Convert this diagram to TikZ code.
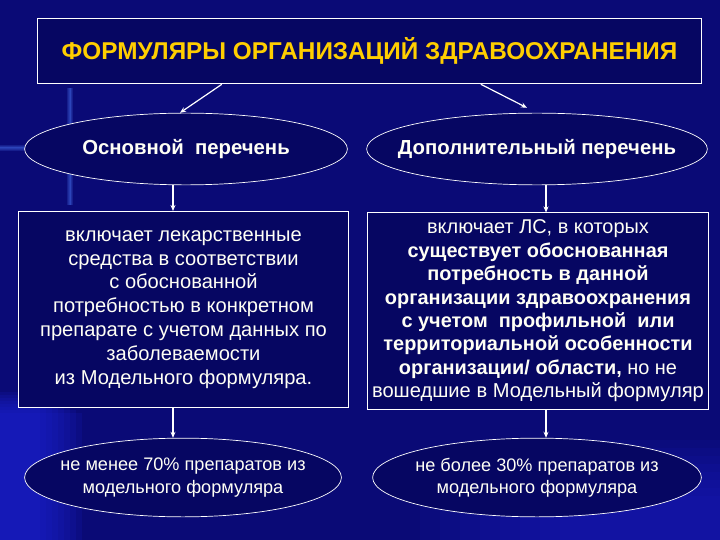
\documentclass[tikz,border=0pt]{standalone}
\usepackage{fontspec}
\setmainfont{Liberation Sans}
\usepackage{xcolor}
\usetikzlibrary{arrows.meta,positioning,calc,shapes.geometric}

\definecolor{bgbase}{RGB}{10,10,118}
\definecolor{bglight}{RGB}{30,36,215}
\definecolor{glow}{RGB}{70,110,235}
\definecolor{shapebg}{RGB}{6,6,98}
\definecolor{textwhite}{RGB}{255,255,245}
\definecolor{titleyellow}{RGB}{255,206,0}

\begin{document}
\begin{tikzpicture}[x=1bp,y=-1bp,
  oval/.style={ellipse,draw=white,line width=0.7bp,fill=shapebg,inner xsep=-70bp,inner ysep=-12bp,text=textwhite,align=center},
  panel/.style={rectangle,draw=white,line width=0.8bp,fill=shapebg,inner xsep=-12bp,inner ysep=0pt,text=textwhite,align=center},
  link/.style={draw=white,line width=1.2bp,-{Stealth[length=6bp,width=5bp]}}]
\useasboundingbox (0,0) rectangle (720,540);
% background
\fill[bgbase] (0,0) rectangle (720,540);
\foreach \i in {0,...,7}
  \fill[bglight,opacity=0.14] (0,{392+\i*3}) rectangle ({40+\i*6},540);
\foreach \i in {0,...,7}
  \fill[bglight,opacity=0.08] ({560-\i*20},{440+\i*8}) rectangle (720,540);
\foreach \i in {0,...,3}
  \fill[glow,opacity=0.2] ({69.5-\i*0.9},88) rectangle ({70.5+\i*0.9},205);
\foreach \i in {0,...,3}
  \fill[glow,opacity=0.2] (0,{147.5-\i*0.9}) rectangle (26,{148.5+\i*0.9});

% title
\node[panel,minimum width=667,minimum height=66,text=titleyellow,font=\fontsize{24.4}{28}\selectfont\bfseries]
  (title) at (369.5,51) {ФОРМУЛЯРЫ ОРГАНИЗАЦИЙ ЗДРАВООХРАНЕНИЯ};

% lists
\node[oval,minimum width=324,minimum height=72,font=\fontsize{20.4}{24}\selectfont\bfseries]
  (basic) at (186,149) {Основной\ \ перечень};
\node[oval,minimum width=342,minimum height=72,font=\fontsize{20.4}{24}\selectfont\bfseries]
  (extra) at (537,149) {Дополнительный перечень};

% contents
\node[panel,minimum width=331,minimum height=197,font=\fontsize{20.2}{24}\selectfont]
  (basicbox) at (183.5,309.5) {включает лекарственные\\средства в соответствии\\с обоснованной\\потребностью в конкретном\\препарате с учетом данных по\\заболеваемости\\из Модельного формуляра.};
\node[panel,minimum width=342,minimum height=197,font=\fontsize{20}{23.5}\selectfont]
  (extrabox) at (538,311) {включает ЛС, в которых\\\textbf{существует обоснованная}\\\textbf{потребность в данной}\\\textbf{организации здравоохранения}\\\textbf{с учетом\ \ профильной\ \ или}\\\textbf{территориальной особенности}\\\textbf{организации/ области,} но не\\{\fontsize{20.2}{23.5}\selectfont вошедшие в Модельный формуляр}};

% shares
\node[oval,minimum width=318,minimum height=79,font=\fontsize{18.2}{22.5}\selectfont]
  (basicshare) at (183,477.5) {не менее 70\% препаратов из\\модельного формуляра};
\node[oval,minimum width=330,minimum height=79,font=\fontsize{18.2}{22.5}\selectfont]
  (extrashare) at (537,477.5) {не более 30\% препаратов из\\модельного формуляра};

% arrows
\draw[link] ($(title.south west)+(185,0)$) -- ($(basic.north)+(-6,0)$);
\draw[link] ($(title.south west)+(444,0)$) -- ($(extra.north)+(-10,-5)$);
\draw[link] (basic.south -| 173,0) -- (basicbox.north -| 173,0);
\draw[link] (extra.south -| 546,0) -- (extrabox.north -| 546,0);
\draw[link] (basicbox.south -| 173,0) -- (basicshare.north -| 173,0);
\draw[link] (extrabox.south -| 546,0) -- (extrashare.north -| 546,0);
\end{tikzpicture}
\end{document}
